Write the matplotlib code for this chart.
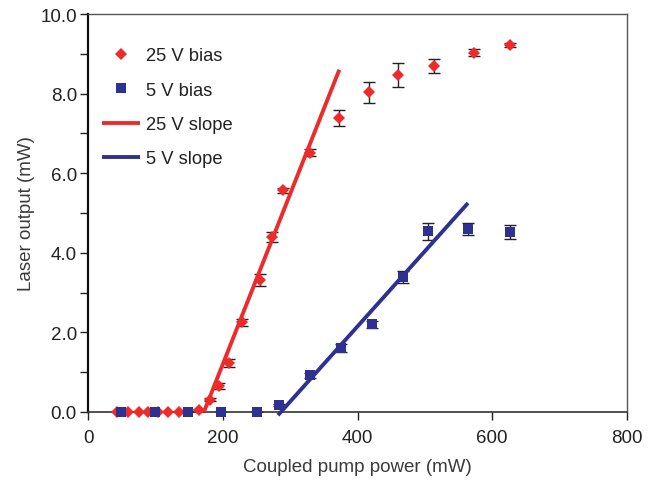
import matplotlib
matplotlib.use("Agg")
import matplotlib.pyplot as plt
from matplotlib.ticker import MultipleLocator, FormatStrFormatter

plt.rcParams['font.family'] = ['Liberation Sans', 'DejaVu Sans']

# 25 V bias data
x25 = [43, 60, 75, 89, 104, 119, 135, 165, 181, 194.5, 210, 229, 255, 273, 290, 329, 372, 417, 460, 514, 573, 627]
y25 = [0.0, 0.0, 0.0, 0.0, 0.0, 0.0, 0.0, 0.05, 0.31, 0.66, 1.24, 2.25, 3.31, 4.40, 5.57, 6.52, 7.39, 8.03, 8.47, 8.69, 9.03, 9.23]
e25 = [0, 0, 0, 0, 0, 0, 0, 0.03, 0.04, 0.08, 0.1, 0.08, 0.15, 0.13, 0.06, 0.1, 0.21, 0.27, 0.30, 0.17, 0.08, 0.05]

# 5 V bias data
x5 = [49, 100, 148, 198, 251, 283, 329, 375, 422, 468, 505, 564, 627]
y5 = [0.0, 0.0, 0.0, 0.0, 0.0, 0.17, 0.92, 1.60, 2.20, 3.39, 4.54, 4.59, 4.52]
e5 = [0, 0, 0, 0, 0, 0.03, 0.07, 0.1, 0.08, 0.15, 0.21, 0.15, 0.18]

# slope (fit) lines endpoints
s25_x = [172, 373]
s25_y = [0.0, 8.6]
s5_x = [282, 564]
s5_y = [-0.08, 5.25]

red = '#EE2B2B'
blue = '#2E3192'

fig = plt.figure(figsize=(6.5, 4.81), dpi=100)
ax = fig.add_axes([0.1354, 0.1414, 0.9646 - 0.1354, 0.9688 - 0.1414])

ax.errorbar(x25, y25, yerr=e25, fmt='none', ecolor='#222222', elinewidth=1.0,
            capsize=4.5, capthick=1.0, zorder=2)
ax.errorbar(x5, y5, yerr=e5, fmt='none', ecolor='#222222', elinewidth=1.0,
            capsize=4.5, capthick=1.0, zorder=2)
ax.plot(x25, y25, linestyle='none', marker='D', markersize=6, color=red,
        markeredgewidth=0, label='25 V bias', zorder=3, clip_on=False)
ax.plot(x5, y5, linestyle='none', marker='s', markersize=7.5, color=blue,
        markeredgewidth=0, label='5 V bias', zorder=3, clip_on=False)
ax.plot(s25_x, s25_y, color=red, linewidth=2.8, label='25 V slope', zorder=4,
        solid_capstyle='butt')
ax.plot(s5_x, s5_y, color=blue, linewidth=2.8, label='5 V slope', zorder=4,
        clip_on=False, solid_capstyle='butt')

ax.set_xlim(0, 800)
ax.set_ylim(0, 10)
ax.xaxis.set_major_locator(MultipleLocator(200))
ax.yaxis.set_major_locator(MultipleLocator(2))
ax.yaxis.set_minor_locator(MultipleLocator(1))
ax.yaxis.set_major_formatter(FormatStrFormatter('%.1f'))

for side in ['top', 'right']:
    ax.spines[side].set_color('#555555')
    ax.spines[side].set_linewidth(1.0)
ax.spines['left'].set_color('#111111')
ax.spines['left'].set_linewidth(1.6)
ax.spines['bottom'].set_color('#333333')
ax.spines['bottom'].set_linewidth(1.2)

ax.tick_params(axis='both', which='major', labelsize=13.5, colors='#222222',
               length=6, width=1.0, direction='out', pad=2)
ax.tick_params(axis='y', which='minor', length=6, width=1.0, color='#222222', direction='out')
ax.tick_params(axis='x', which='major', pad=6)

ax.set_xlabel('Coupled pump power (mW)', fontsize=13.5, color='#3a3a3a', labelpad=9)
ax.set_ylabel('Laser output (mW)', fontsize=13.5, color='#3a3a3a', labelpad=4)

leg = ax.legend(loc='upper left', frameon=False, fontsize=13.2, handlelength=2.1,
                handletextpad=0.3, labelspacing=0.95, borderaxespad=0.0,
                bbox_to_anchor=(0.012, 0.935), numpoints=1)
for t in leg.get_texts():
    t.set_color('#222222')

fig.savefig('out.png', dpi=100)
